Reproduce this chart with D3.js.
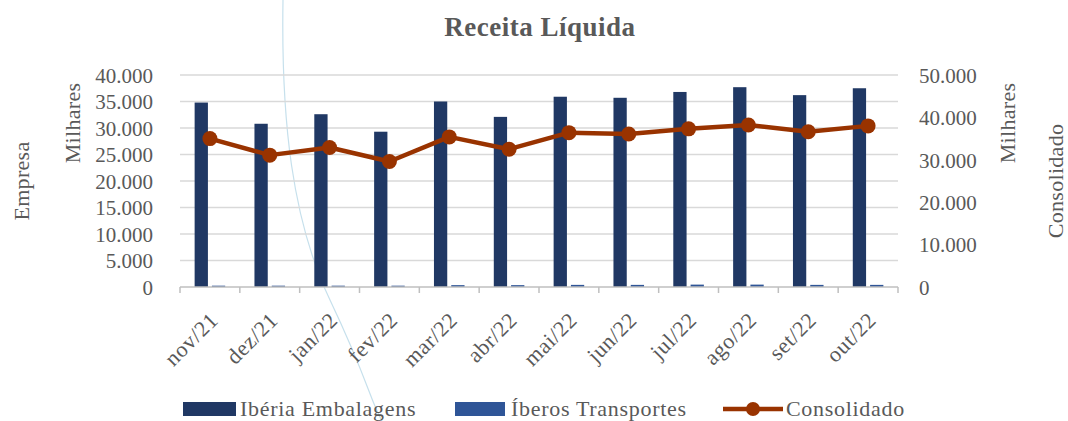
<!DOCTYPE html>
<html>
<head>
<meta charset="utf-8">
<script src="https://cdn.jsdelivr.net/npm/d3@7/dist/d3.min.js"></script>
<style>
  html, body { margin: 0; padding: 0; background: #fff; }
  svg { display: block; font-family: "Liberation Serif", "DejaVu Serif", serif; }
</style>
</head>
<body>
<svg id="chart" width="1068" height="421"></svg>
<script>
// ---- Data ----
const categories = ["nov/21","dez/21","jan/22","fev/22","mar/22","abr/22","mai/22","jun/22","jul/22","ago/22","set/22","out/22"];
const iberiaEmbalagens = [34800, 30800, 32600, 29300, 35000, 32100, 35900, 35700, 36800, 37700, 36200, 37500];
const iberosTransportes = [250, 250, 250, 250, 350, 350, 400, 400, 450, 450, 400, 400];
const consolidado = [35000, 31100, 32900, 29600, 35400, 32500, 36400, 36100, 37300, 38200, 36600, 38000];
const leftTicks = [0, 5000, 10000, 15000, 20000, 25000, 30000, 35000, 40000];
const rightTicks = [0, 10000, 20000, 30000, 40000, 50000];
const seriesNames = ["Ibéria Embalagens", "Íberos Transportes", "Consolidado"];

// ---- Styles ----
const colDark = "#203864", colLight = "#2F5597", colLine = "#993300";
const textCol = "#595959", gridCol = "#d9d9d9", axisCol = "#bfbfbf";

const svg = d3.select("#chart");
const fmt = v => d3.format(",")(v).replace(/,/g, ".");

const plot = { left: 180, right: 898, top: 75, bottom: 287 };

const x = d3.scaleBand().domain(categories).range([plot.left, plot.right]).padding(0);
const yL = d3.scaleLinear().domain([0, 40000]).range([plot.bottom, plot.top]);
const yR = d3.scaleLinear().domain([0, 50000]).range([plot.bottom, plot.top]);

// decorative faint arc (background artefact of the original)
svg.append("path")
  .attr("d", "M283,0 C281,120 292,220 330,300 S370,400 382,421")
  .attr("fill", "none").attr("stroke", "#c6e0ec").attr("stroke-width", 1.2);

// Gridlines
svg.append("g").selectAll("line").data(leftTicks.filter(d => d > 0)).join("line")
  .attr("x1", plot.left).attr("x2", plot.right)
  .attr("y1", d => yL(d)).attr("y2", d => yL(d))
  .attr("stroke", gridCol).attr("stroke-width", 1.5);

// Title
svg.append("text").attr("x", 540).attr("y", 36).attr("text-anchor", "middle")
  .attr("font-size", 27).attr("font-weight", "bold").attr("letter-spacing", 0.5).attr("fill", textCol)
  .text("Receita Líquida");

// Left axis
const gL = svg.append("g").attr("transform", `translate(${plot.left},0)`)
  .call(d3.axisLeft(yL).tickValues(leftTicks).tickFormat(fmt).tickSize(0).tickPadding(27));
gL.select(".domain").remove();
gL.selectAll("text").attr("font-size", 21).attr("fill", textCol)
  .attr("font-family", "Liberation Serif").attr("dy", "0.35em");

// Right axis
const gR = svg.append("g").attr("transform", `translate(${plot.right},0)`)
  .call(d3.axisRight(yR).tickValues(rightTicks).tickFormat(fmt).tickSize(0).tickPadding(21));
gR.select(".domain").remove();
gR.selectAll("text").attr("font-size", 21).attr("fill", textCol)
  .attr("font-family", "Liberation Serif").attr("dy", "0.35em");

// Bars
const bw = x.bandwidth() * 0.222, gap = x.bandwidth() * 0.067;
svg.append("g").selectAll("rect").data(iberiaEmbalagens).join("rect")
  .attr("x", (d, i) => x(categories[i]) + x.bandwidth() / 2 - gap / 2 - bw)
  .attr("y", d => yL(d)).attr("width", bw).attr("height", d => yL(0) - yL(d))
  .attr("fill", colDark);
svg.append("g").selectAll("rect").data(iberosTransportes).join("rect")
  .attr("x", (d, i) => x(categories[i]) + x.bandwidth() / 2 + gap / 2)
  .attr("y", d => yL(d)).attr("width", bw).attr("height", d => yL(0) - yL(d))
  .attr("fill", colLight);

// Bottom axis
const gX = svg.append("g").attr("transform", `translate(0,${plot.bottom})`);
gX.append("line").attr("x1", plot.left).attr("x2", plot.right).attr("y1", 0).attr("y2", 0)
  .attr("stroke", axisCol).attr("stroke-width", 1.5);
const bounds = categories.map(c => x(c)).concat([plot.right]);
gX.selectAll("line.tk").data(bounds).join("line").attr("class", "tk")
  .attr("x1", d => d).attr("x2", d => d).attr("y1", 0).attr("y2", 6)
  .attr("stroke", axisCol).attr("stroke-width", 1.5);
gX.selectAll("text").data(categories).join("text")
  .attr("transform", d => `translate(${x(d) + x.bandwidth() / 2 + 4},${29}) rotate(-45)`)
  .attr("text-anchor", "end").attr("dy", "0.35em").attr("letter-spacing", 0.6)
  .attr("font-size", 22).attr("fill", textCol).text(d => d);

// Line
const cx = (d, i) => x(categories[i]) + x.bandwidth() / 2;
svg.append("path").datum(consolidado)
  .attr("d", d3.line().x(cx).y(d => yR(d)))
  .attr("fill", "none").attr("stroke", colLine).attr("stroke-width", 4.5).attr("stroke-linejoin", "round");
svg.append("g").selectAll("circle").data(consolidado).join("circle")
  .attr("cx", cx).attr("cy", d => yR(d)).attr("r", 7.5).attr("fill", colLine);

// Axis titles
const axTitle = (tx, ty, txt) => svg.append("text")
  .attr("transform", `translate(${tx},${ty}) rotate(-90)`)
  .attr("text-anchor", "middle").attr("font-size", 22).attr("letter-spacing", 0.3)
  .attr("fill", textCol).text(txt);
axTitle(80, 123, "Milhares");
axTitle(29, 181, "Empresa");
axTitle(1015, 123, "Milhares");
axTitle(1063, 181, "Consolidado");

// Legend
const lg = svg.append("g");
const legText = (tx, txt) => lg.append("text").attr("x", tx).attr("y", 416)
  .attr("font-size", 22).attr("letter-spacing", 0.7).attr("fill", textCol).text(txt);
lg.append("rect").attr("x", 183).attr("y", 402).attr("width", 53).attr("height", 14).attr("fill", colDark);
legText(240, seriesNames[0]);
lg.append("rect").attr("x", 455).attr("y", 402).attr("width", 50).attr("height", 14).attr("fill", colLight);
legText(511, seriesNames[1]);
lg.append("line").attr("x1", 723).attr("x2", 783).attr("y1", 409).attr("y2", 409)
  .attr("stroke", colLine).attr("stroke-width", 4.5);
lg.append("circle").attr("cx", 753).attr("cy", 409).attr("r", 7).attr("fill", colLine);
legText(786, seriesNames[2]);
</script>
</body>
</html>
